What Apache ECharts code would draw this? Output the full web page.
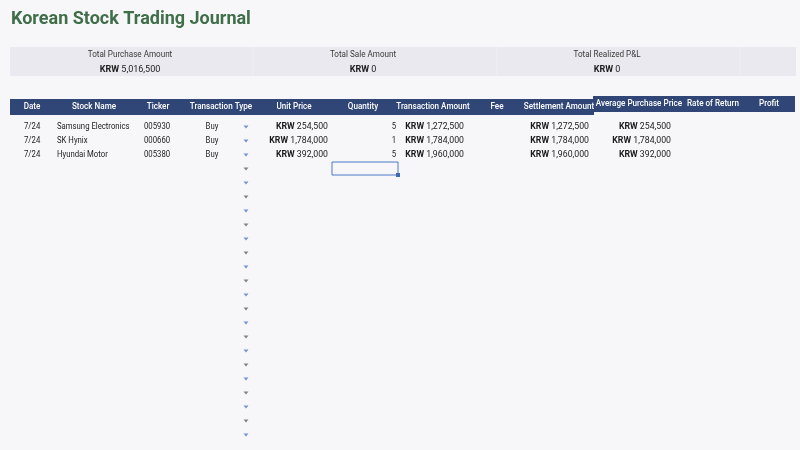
<!DOCTYPE html>
<html>
<head>
<meta charset="utf-8">
<script src="https://cdn.jsdelivr.net/npm/echarts@6/dist/echarts.min.js"></script>
<style>
  html, body { margin: 0; padding: 0; background: #f7f7f9; }
  #main { width: 800px; height: 450px; }
</style>
</head>
<body>
<div id="main"></div>
<script>
// journal data
const dates = ['7/24', '7/24', '7/24'];
const stockNames = ['Samsung Electronics', 'SK Hynix', 'Hyundai Motor'];
const tickers = ['005930', '000660', '005380'];
const txTypes = ['Buy', 'Buy', 'Buy'];
const unitPrices = [254500, 1784000, 392000];
const quantities = [5, 1, 5];
const txAmounts = [1272500, 1784000, 1960000];
const settlements = [1272500, 1784000, 1960000];
const avgPrices = [254500, 1784000, 392000];

const headers = ['Date', 'Stock Name', 'Ticker', 'Transaction Type', 'Unit Price', 'Quantity',
  'Transaction Amount', 'Fee', 'Settlement Amount', 'Average Purchase Price', 'Rate of Return', 'Profit'];
const summaryLabels = ['Total Purchase Amount', 'Total Sale Amount', 'Total Realized P&L'];
const summaryValues = [5016500, 0, 0];
const rowCount = 23;

// layout (pixel positions of columns)
const headerX = [32, 94, 158, 221, 294, 363, 433, 497, 559, 639, 713, 769];
const summaryX = [130, 363, 607];
const FONT = 'Roboto';
const SX = 0.9;      // header / label squeeze
const SX_TXT = 0.86; // plain text cells
const SX_NUM = 0.97; // money cells

const fmt = v => '{b|KRW} ' + v.toLocaleString('en-US');

const rows = [];
for (let i = 1; i <= rowCount; i++) rows.push(String(i));

// build cell list
const cells = [];
function addCol(values, x, align, money) {
  values.forEach((v, i) => {
    cells.push({ value: [x, i], text: money ? fmt(v) : String(v), align: align,
      sx: money ? SX_NUM : SX_TXT });
  });
}
addCol(dates, 24, 'left');
addCol(stockNames, 57, 'left');
addCol(tickers, 144, 'left');
addCol(txTypes, 212, 'center');
addCol(unitPrices, 328, 'right', true);
addCol(quantities, 396, 'right');
addCol(txAmounts, 464, 'right', true);
addCol(settlements, 589, 'right', true);
addCol(avgPrices, 671, 'right', true);

// dropdown arrows of the Transaction Type column
const arrows = [];
for (let i = 0; i < rowCount; i++) {
  const gray = i >= 3 && i % 2 === 1;
  arrows.push({ value: [246, i], itemStyle: { color: gray ? '#5f6470' : '#5677c6' } });
}

const richB = { b: { fontWeight: 'bold', fontFamily: FONT, fontSize: 9, fill: '#1c1c1c' } };

const graphics = [
  { type: 'rect', shape: { x: 10, y: 47, width: 786, height: 29 }, style: { fill: '#e9e9ef' } },
  { type: 'rect', shape: { x: 10, y: 99, width: 584, height: 16 }, style: { fill: '#2f4677' } },
  { type: 'rect', shape: { x: 593, y: 96, width: 202, height: 16 }, style: { fill: '#2f4677' } }
];
// faint cell borders inside the summary band
[253, 497, 740].forEach(x => {
  graphics.push({ type: 'line', shape: { x1: x, y1: 47, x2: x, y2: 76 },
    style: { stroke: '#eeeef3', lineWidth: 1 } });
});
summaryLabels.forEach((t, i) => {
  graphics.push({ type: 'text', x: summaryX[i], y: 55, scaleX: SX,
    style: { text: t, align: 'center', verticalAlign: 'middle', fill: '#3a3a3a', fontSize: 9, fontFamily: FONT } });
  graphics.push({ type: 'text', x: summaryX[i], y: 70, scaleX: 1.0,
    style: { text: fmt(summaryValues[i]), align: 'center', verticalAlign: 'middle', fill: '#1c1c1c',
      fontSize: 9, fontFamily: FONT, rich: richB } });
});
headers.forEach((t, i) => {
  graphics.push({ type: 'text', x: headerX[i], y: headerX[i] > 590 ? 104 : 107, scaleX: SX,
    style: { text: t, align: 'center', verticalAlign: 'middle', fill: '#ffffff',
      fontSize: 9, fontWeight: 500, fontFamily: FONT } });
});

const chart = echarts.init(document.getElementById('main'));
chart.setOption({
  backgroundColor: '#f7f7f9',
  animation: false,
  title: {
    text: 'Korean Stock Trading Journal', left: 11, top: 10, padding: 0,
    textStyle: { fontSize: 18, fontWeight: 'bold', color: '#3f6e48', fontFamily: FONT }
  },
  graphic: graphics,
  grid: { left: 0, right: 0, top: 120, bottom: 8 },
  xAxis: { type: 'value', min: 0, max: 800, show: false },
  yAxis: { type: 'category', data: rows, inverse: true, show: false },
  series: [
    {
      type: 'custom',
      data: cells,
      renderItem: function (params, api) {
        const c = cells[params.dataIndex];
        const p = api.coord([api.value(0), api.value(1)]);
        return {
          type: 'text', x: p[0], y: p[1], scaleX: c.sx,
          style: { text: c.text, align: c.align, verticalAlign: 'middle', fill: '#222',
            fontSize: 9, fontFamily: FONT, rich: richB }
        };
      }
    },
    {
      type: 'scatter',
      data: arrows,
      symbol: 'triangle',
      symbolRotate: 180,
      symbolSize: [5, 3],
      silent: true
    },
    {
      type: 'custom',
      data: [[332, 3]],
      renderItem: function (params, api) {
        const p = api.coord([api.value(0), api.value(1)]);
        const h = api.size([0, 1])[1];
        const w = api.size([66, 0])[0];
        return {
          type: 'group', children: [
            { type: 'rect', shape: { x: p[0], y: p[1] - h / 2, width: w, height: h - 1 },
              style: { fill: 'none', stroke: '#4a78c8', lineWidth: 1 } },
            { type: 'rect', shape: { x: p[0] + w - 2, y: p[1] + h / 2 - 3, width: 4, height: 4 },
              style: { fill: '#3f69b5' } }
          ]
        };
      }
    }
  ]
});
</script>
</body>
</html>
